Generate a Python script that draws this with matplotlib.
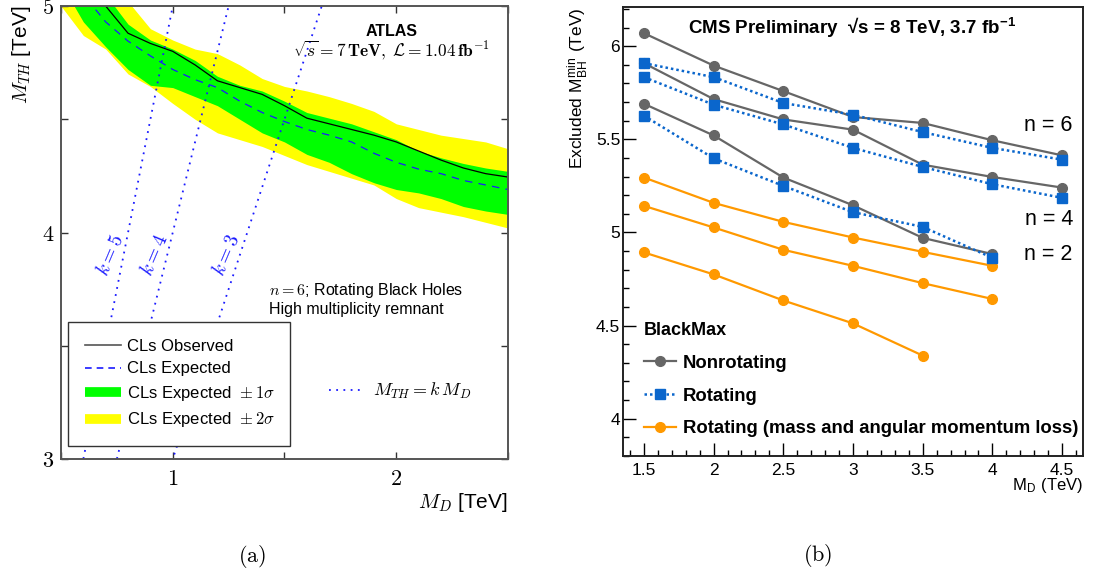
import numpy as np
import matplotlib
matplotlib.use('Agg')
import matplotlib.pyplot as plt
from matplotlib.lines import Line2D
from matplotlib.ticker import MultipleLocator, FuncFormatter

plt.rcParams['font.family'] = ['Liberation Sans', 'DejaVu Sans']
plt.rcParams['mathtext.fontset'] = 'cm'

# ---- panel (a): ATLAS limits ----
md_a = [0.5, 0.6, 0.7, 0.8, 0.9, 1.0, 1.1, 1.2, 1.3, 1.4, 1.5,
        1.6, 1.7, 1.8, 1.9, 2.0, 2.1, 2.2, 2.3, 2.4, 2.5]
observed = [5.30, 5.15, 5.00, 4.88, 4.835, 4.80, 4.74, 4.67, 4.64, 4.61, 4.56,
            4.505, 4.48, 4.455, 4.43, 4.40, 4.36, 4.32, 4.285, 4.26, 4.245]
expected = [5.20, 5.05, 4.93, 4.845, 4.78, 4.72, 4.675, 4.64, 4.58, 4.53, 4.49,
            4.455, 4.43, 4.40, 4.35, 4.31, 4.28, 4.26, 4.23, 4.21, 4.19]
sig1_lo = [5.10, 4.93, 4.82, 4.72, 4.65, 4.64, 4.60, 4.56, 4.50, 4.44, 4.40,
           4.345, 4.31, 4.26, 4.22, 4.19, 4.175, 4.15, 4.115, 4.095, 4.08]
sig1_hi = [5.40, 5.25, 5.05, 4.92, 4.85, 4.81, 4.76, 4.69, 4.65, 4.625, 4.58,
           4.53, 4.505, 4.48, 4.445, 4.41, 4.36, 4.33, 4.305, 4.285, 4.27]
sig2_lo = [5.00, 4.87, 4.81, 4.70, 4.645, 4.57, 4.50, 4.44, 4.41, 4.38, 4.34,
           4.30, 4.27, 4.24, 4.21, 4.15, 4.11, 4.09, 4.07, 4.045, 4.02]
sig2_hi = [5.50, 5.35, 5.15, 5.02, 4.90, 4.85, 4.81, 4.79, 4.74, 4.68, 4.645,
           4.625, 4.60, 4.57, 4.535, 4.48, 4.455, 4.43, 4.415, 4.40, 4.37]
k_values = [5, 4, 3]

# ---- panel (b): CMS BlackMax ----
md_b = [1.5, 2.0, 2.5, 3.0, 3.5, 4.0, 4.5]
nonrot = [
    [6.07, 5.896, 5.759, 5.62, 5.588, 5.495, 5.414],   # n = 6
    [5.909, 5.716, 5.607, 5.552, 5.364, 5.298, 5.241], # n = 4
    [5.691, 5.521, 5.295, 5.146, 4.971, 4.884],        # n = 2
]
rot = [
    [5.909, 5.834, 5.695, 5.632, 5.539, 5.454, 5.391],
    [5.834, 5.686, 5.580, 5.454, 5.352, 5.259, 5.186],
    [5.627, 5.398, 5.250, 5.109, 5.030, 4.864],
]
rot_loss = [
    [5.295, 5.159, 5.057, 4.973, 4.896, 4.821],
    [5.143, 5.027, 4.907, 4.821, 4.728, 4.643],
    [4.893, 4.775, 4.635, 4.512, 4.339],
]

fig = plt.figure(figsize=(11.07, 5.77), dpi=100)

# ================= (a) =================
ax = fig.add_axes([0.0551, 0.2045, 0.4038, 0.785])
ax.fill_between(md_a, sig2_lo, sig2_hi, color='#ffff00', lw=0)
ax.fill_between(md_a, sig1_lo, sig1_hi, color='#00ff00', lw=0)
ax.plot(md_a, observed, color='black', lw=0.9)
ax.plot(md_a, expected, color='#1a1aff', lw=0.9, dashes=(6, 5))

xs = np.array([0.5, 2.5])
for k in k_values:
    ax.plot(xs, k * xs, color='#1a1aff', lw=1.3, ls=(0, (1, 3)))
    ax.text(3.9 / k - 0.058, 3.9, '$k = %d$' % k, color='#1a1aff', fontsize=14,
            rotation=67, rotation_mode='anchor', ha='center', va='center')

ax.set_xlim(0.5, 2.5)
ax.set_ylim(3, 5)
ax.set_xticks([0.5, 1, 1.5, 2, 2.5], ['', '$1$', '', '$2$', ''])
ax.set_yticks([3, 3.5, 4, 4.5, 5], ['$3$', '', '$4$', '', '$5$'])
ax.tick_params(direction='in', top=True, right=True, length=5, width=1,
               labelsize=16, color='#333333')
ax.tick_params(axis='x', pad=7)
ax.tick_params(axis='y', pad=5)
for s in ax.spines.values():
    s.set_color('#555555')
    s.set_linewidth(1.4)

ax.set_ylabel('$M_{TH}$ [TeV]', fontsize=15, loc='top')
ax.yaxis.set_label_coords(-0.063, 1.0)
ax.set_xlabel('$M_{D}$ [TeV]', fontsize=15, loc='right')
ax.xaxis.set_label_coords(1.0, -0.07)

ax.text(0.74, 0.943, 'ATLAS', transform=ax.transAxes, fontsize=11.5,
        fontweight='bold', ha='center', va='center')
ax.text(0.739, 0.903,
        r'$\sqrt{s} = \mathbf{7}\,\mathbf{TeV},\; \mathcal{L} = \mathbf{1.04}\,\mathbf{fb}^{-1}$',
        transform=ax.transAxes, fontsize=12.5, ha='center', va='center')
ax.text(0.465, 0.373, '$n = 6$; Rotating Black Holes', transform=ax.transAxes,
        fontsize=11.5, ha='left', va='center')
ax.text(0.465, 0.331, 'High multiplicity remnant', transform=ax.transAxes,
        fontsize=11.5, ha='left', va='center')

h_obs = Line2D([], [], color='#555555', lw=1.2)
h_exp = Line2D([], [], color='#1a1aff', lw=1.2, dashes=(4, 3))
h_s1 = Line2D([], [], color='#00ff00', lw=7, solid_capstyle='butt')
h_s2 = Line2D([], [], color='#ffff00', lw=7, solid_capstyle='butt')
leg1 = ax.legend([h_obs, h_exp, h_s1, h_s2],
                 ['CLs Observed', 'CLs Expected',
                  r'CLs Expected  $\pm\,1\sigma$', r'CLs Expected  $\pm\,2\sigma$'],
                 loc='upper left', bbox_to_anchor=(0.0157, 0.033, 0.496, 0.269),
                 mode='expand', fontsize=12, handlelength=2.2, handletextpad=0.35,
                 labelspacing=0.45, borderpad=1.0, borderaxespad=0,
                 fancybox=False, framealpha=1, edgecolor='#333333')
leg1.get_frame().set_linewidth(1.0)
ax.add_artist(leg1)
h_k = Line2D([], [], color='#1a1aff', lw=1.3, ls=(0, (1, 3)))
ax.legend([h_k], [r'$M_{TH} = k\,M_{D}$'], loc='center left',
          bbox_to_anchor=(0.6, 0.15), frameon=False, fontsize=13,
          handlelength=1.8, handletextpad=0.6, borderpad=0, borderaxespad=0)

# ================= (b) =================
bx = fig.add_axes([0.5628, 0.2097, 0.4155, 0.778])
gray = '#666666'
blue = '#0a66cc'
orange = '#ff9900'
for yv in rot_loss:
    bx.plot(md_b[:len(yv)], yv, color=orange, lw=1.6, marker='o', ms=7, zorder=2)
for yv in nonrot:
    bx.plot(md_b[:len(yv)], yv, color=gray, lw=1.6, marker='o', ms=7, zorder=3)
for yv in rot:
    bx.plot(md_b[:len(yv)], yv, color=blue, lw=1.8, ls=(0, (1, 1.2)),
            marker='s', ms=6.5, zorder=4)

bx.set_xlim(1.35, 4.65)
bx.set_ylim(3.8, 6.21)
bx.xaxis.set_major_locator(MultipleLocator(0.5))
bx.xaxis.set_minor_locator(MultipleLocator(0.1))
bx.yaxis.set_major_locator(MultipleLocator(0.5))
bx.yaxis.set_minor_locator(MultipleLocator(0.1))
fmt = FuncFormatter(lambda v, p: '{:g}'.format(round(v, 2)))
bx.xaxis.set_major_formatter(fmt)
bx.yaxis.set_major_formatter(fmt)
bx.tick_params(which='both', direction='in', top=False, right=False,
               labelsize=12.5, width=1)
bx.tick_params(which='major', length=9.5)
bx.tick_params(which='minor', length=4.5)
bx.tick_params(axis='y', pad=2)
bx.tick_params(axis='x', pad=5)
for s in bx.spines.values():
    s.set_linewidth(1.4)
    s.set_color('#222222')

bx.set_ylabel(r'Excluded M$_{\mathregular{BH}}^{\mathregular{min}}$ (TeV)',
              fontsize=12.5, loc='top')
bx.yaxis.set_label_coords(-0.072, 1.0)
bx.set_xlabel(r'M$_{\mathregular{D}}$ (TeV)', fontsize=12, loc='right')
bx.xaxis.set_label_coords(1.0, -0.045)

bx.text(0.498, 0.953, r'CMS Preliminary  √s = 8 TeV, 3.7 fb$^{\mathregular{-1}}$',
        transform=bx.transAxes, fontsize=13.5, fontweight='bold',
        ha='center', va='center')
bx.text(0.978, 0.737, 'n = 6', transform=bx.transAxes, fontsize=15.5,
        ha='right', va='center')
bx.text(0.98, 0.526, 'n = 4', transform=bx.transAxes, fontsize=15.5,
        ha='right', va='center')
bx.text(0.976, 0.448, 'n = 2', transform=bx.transAxes, fontsize=15.5,
        ha='right', va='center')

hb1 = Line2D([], [], color=gray, lw=1.6, marker='o', ms=7)
hb2 = Line2D([], [], color=blue, lw=1.8, ls=(0, (1, 1.2)), marker='s', ms=6.5)
hb3 = Line2D([], [], color=orange, lw=1.6, marker='o', ms=7)
legb = bx.legend([hb1, hb2, hb3],
                 ['Nonrotating', 'Rotating',
                  'Rotating (mass and angular momentum loss)'],
                 title='BlackMax', loc='upper left', bbox_to_anchor=(0.046, 0.298),
                 frameon=False, numpoints=1, alignment='left',
                 prop={'weight': 'bold', 'size': 13.3},
                 title_fontproperties={'weight': 'bold', 'size': 13},
                 handlelength=1.7, handletextpad=0.4, labelspacing=0.85,
                 borderpad=0, borderaxespad=0)

fig.text(0.2276, 0.036, r'$(\mathrm{a})$', fontsize=16, ha='center', va='center')
fig.text(0.739, 0.038, r'$(\mathrm{b})$', fontsize=16, ha='center', va='center')

fig.savefig('out.png', dpi=100)
